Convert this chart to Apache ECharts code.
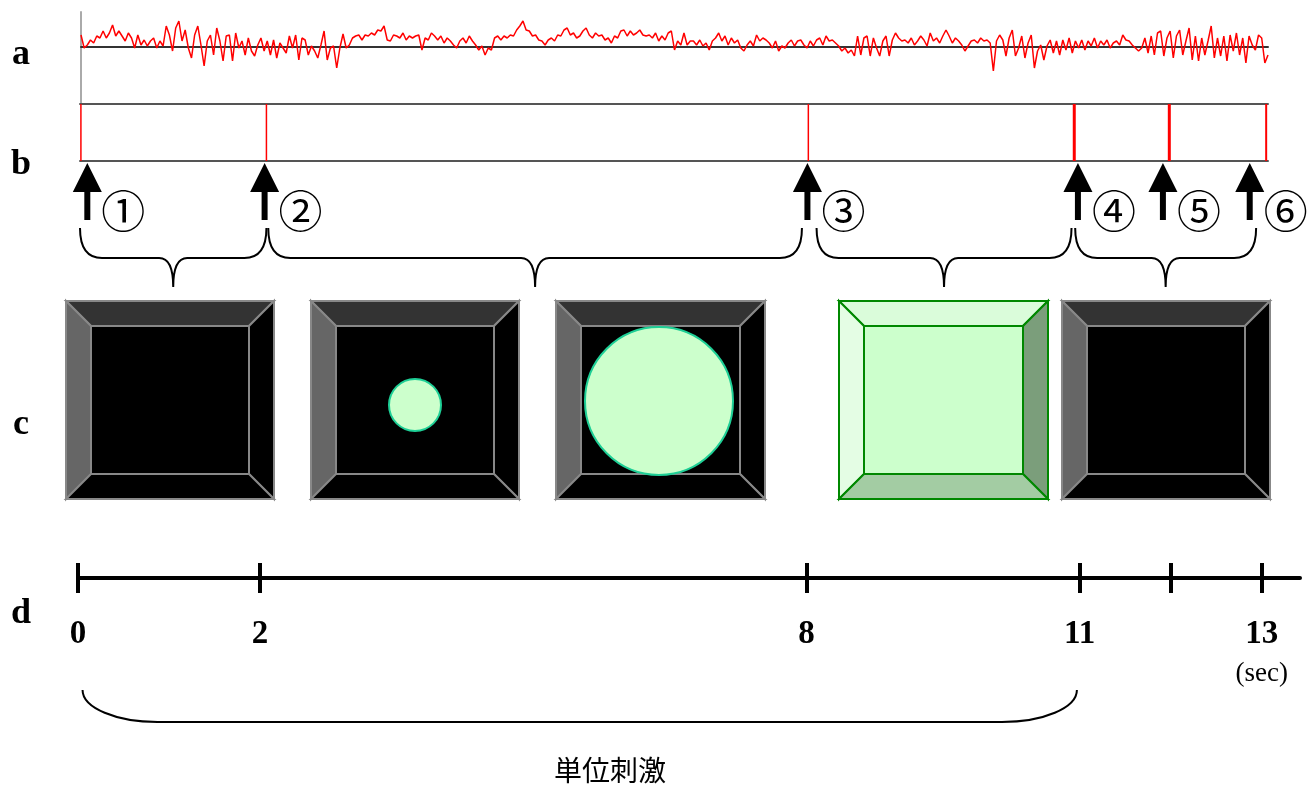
<!DOCTYPE html>
<html>
<head>
<meta charset="utf-8">
<script src="https://cdn.jsdelivr.net/npm/echarts@6/dist/echarts.min.js"></script>
<style>
  html, body { margin: 0; padding: 0; background: #fff; }
  #main { width: 1315px; height: 786px; }
</style>
</head>
<body>
<div id="main"></div>
<script>
var signalPart1 = [12,-1,2,7,4,11,9,16,9,14, 22,11,16,11,6,14,9,-1,12,2, 7,1,6,9,-1,6,1,21,12,-4,
  19,26,6,17,-1,-11,12,21,2,-19, 6,12,-8,19,6,-14,11,12,-14,14, -1,6,-8,9,-4,-9,2,9,-4,6,
  -8,7,-11,4,-1,-6,11,-1,12,-13, 9,7,-8,1,-4,-11,2,16,-13,-1, 1,-21,-1,13,-1,2,9,11,12,7,
  12,11,14,12,17,16,21,7,6,12];
var signalPart2 = [11,9,14,7,11,9,11,12,-3,9, 7,14,11,7,11,4,9,6,2,-1, 6,9,4,11,6,2,-3,1,-8,-1,
  -3,9,11,7,11,9,12,11,17,21, 26,17,16,11,12,7,6,2,7,9, 6,12,11,17,19,12,14,9,11,16,
  19,12,9,14,11,12,7,9,4,11, 9,16,17,11,16,12,14,17,12,11, 12,9,14,6,11,7,14,16,-3,6, 2,14,2,6];
var signalPart3 = [6,2,7,1,4,-3,6,9,14,6, 11,2,9,4,7,-1,-4,2,6,1, 12,6,9,7,4,-1,6,-4,1,-1,
  4,7,1,6,7,2,-1,6,1,7, 9,2,11,6,7,4,1,-4,-1,-6, -3,-9,11,-8,9,11,-9,9,-1,-9,
  6,11,-9,7,14,9,6,7,4,9, 2,6,11,7,1,14,6,9,4,11, 17,11,4,9,6,2,-4,1,6,7, 4,9,6,7];
var signalPart4 = [4,-24,6,12,7,-9,9,17,-9,-1, 11,-11,4,12,-21,-4,2,-13,1,7, -6,6,-8,7,-3,9,-6,6,-1,7,
  -3,6,1,9,-1,6,2,7,-1,4, 6,2,12,7,6,2,-1,-4,-1,9, -6,11,-8,14,16,-9,9,16,-11,11,
  17,-8,6,19,-13,11,-14,9,-8,6, 21,-11,9,-9,11,-14,12,-4,14,-8, 9,-16,11,2,-3,12,9,-16,-8];
var signal = signalPart1.concat(signalPart2, signalPart3, signalPart4);
var duration = 13;

// b: stimulus onsets (sec) and the arrows under them
var stimTimes = [0.01, 2.04, 7.97, 10.88, 11.92, 12.98];
var arrowTimes = [0.08, 2.02, 7.96, 10.92, 11.85, 12.8];
var arrowLabels = ['①', '②', '③', '④', '⑤', '⑥'];
var braceSpans = [[0, 2.04], [2.06, 7.9], [8.06, 10.85], [10.89, 12.87]];

// d: time axis
var axisTicks = [0, 2, 8, 11, 12, 13];
var axisLabels = [0, 2, 8, 11, 13];
var unitSpan = [[0.05, 10.97]];
var unitLabel = '単位刺激';

var rowLetters = ['a', 'b', 'c', 'd'];

var stimWidths = [1.5, 1.5, 1.5, 3, 3, 2];
var serif = '"Liberation Serif", "DejaVu Serif", serif';
var cjk = '"Noto Sans CJK JP", "Noto Sans", sans-serif';

var chart = echarts.init(document.getElementById('main'));

var signalData = signal.map(function (v, i) {
  return [i * duration / (signal.length - 1), v];
});

function renderStim(params, api) {
  var cs = params.coordSys;
  var x = api.coord([api.value(0), 0])[0];
  return {
    type: 'line',
    shape: { x1: x, y1: cs.y, x2: x, y2: cs.y + cs.height },
    style: { stroke: '#ff0000', lineWidth: stimWidths[params.dataIndex] }
  };
}

function renderArrow(params, api) {
  var p = api.coord([api.value(0), 0]);
  var x = p[0], y = p[1] + 2;
  return {
    type: 'group',
    children: [
      { type: 'polygon', shape: { points: [[x, y], [x + 14.5, y + 29], [x - 14.5, y + 29]] }, style: { fill: '#000' } },
      { type: 'rect', shape: { x: x - 3, y: y + 28, width: 6, height: 29 }, style: { fill: '#000' } },
      { type: 'text', style: {
        text: arrowLabels[params.dataIndex], x: x + 36, y: y + 48,
        align: 'center', verticalAlign: 'middle', textAlign: 'center', textVerticalAlign: 'middle',
        font: '44px ' + cjk, fill: '#000' } }
    ]
  };
}

function renderBrace(params, api) {
  var xa = api.coord([api.value(0), 0])[0];
  var xb = api.coord([api.value(1), 0])[0];
  var yb = api.coord([api.value(0), 0])[1];
  var y0 = yb + 67, y1 = yb + 97, y2 = yb + 126;
  var xm = (xa + xb) / 2, r = 22, rm = 14;
  var d = 'M' + xa + ' ' + y0 + ' Q' + xa + ' ' + y1 + ' ' + (xa + r) + ' ' + y1 +
    ' L' + (xm - rm) + ' ' + y1 + ' Q' + xm + ' ' + y1 + ' ' + xm + ' ' + y2 +
    ' M' + xm + ' ' + y2 + ' Q' + xm + ' ' + y1 + ' ' + (xm + rm) + ' ' + y1 +
    ' L' + (xb - r) + ' ' + y1 + ' Q' + xb + ' ' + y1 + ' ' + xb + ' ' + y0;
  return { type: 'path', shape: { pathData: d }, style: { fill: null, stroke: '#000', lineWidth: 2 } };
}

function renderUnitBrace(params, api) {
  var a = api.coord([api.value(0), 0]);
  var xa = a[0];
  var xb = api.coord([api.value(1), 0])[0];
  var y0 = a[1] + 112, y1 = a[1] + 144;
  var d = 'M' + xa + ' ' + y0 + ' C' + xa + ' ' + (y0 + 18) + ' ' + (xa + 34) + ' ' + y1 + ' ' + (xa + 75) + ' ' + y1 +
    ' L' + (xb - 75) + ' ' + y1 + ' C' + (xb - 34) + ' ' + y1 + ' ' + xb + ' ' + (y0 + 18) + ' ' + xb + ' ' + y0;
  return { type: 'path', shape: { pathData: d }, style: { fill: null, stroke: '#000', lineWidth: 2 } };
}

// c: stimulus frames
function frame(x, y, w, h, b, pal) {
  var pts = {
    top: [[x, y], [x + w, y], [x + w - b, y + b], [x + b, y + b]],
    left: [[x, y], [x + b, y + b], [x + b, y + h - b], [x, y + h]],
    right: [[x + w, y], [x + w, y + h], [x + w - b, y + h - b], [x + w - b, y + b]],
    bottom: [[x, y + h], [x + b, y + h - b], [x + w - b, y + h - b], [x + w, y + h]],
    inner: [[x + b, y + b], [x + w - b, y + b], [x + w - b, y + h - b], [x + b, y + h - b]]
  };
  return ['top', 'left', 'right', 'bottom', 'inner'].map(function (k) {
    return { type: 'polygon', shape: { points: pts[k] }, style: { fill: pal[k], stroke: pal.edge, lineWidth: 2 } };
  });
}
var darkPal = { top: '#333333', left: '#666666', right: '#000000', bottom: '#000000', inner: '#000000', edge: '#888888' };
var greenPal = { top: '#dafcda', left: '#e4fde4', right: '#7b9e7b', bottom: '#a3cca3', inner: '#ccffcc', edge: '#008800' };

var graphics = [];
graphics = graphics.concat(frame(66, 301, 208, 198, 25, darkPal));
graphics = graphics.concat(frame(311, 301, 208, 198, 25, darkPal));
graphics = graphics.concat(frame(556, 301, 209, 198, 25, darkPal));
graphics = graphics.concat(frame(839, 301, 209, 198, 25, greenPal));
graphics = graphics.concat(frame(1062, 301, 208, 198, 25, darkPal));
graphics.push({ type: 'circle', shape: { cx: 415, cy: 405, r: 26 }, style: { fill: '#ccffcc', stroke: '#1ecf96', lineWidth: 2 } });
graphics.push({ type: 'circle', shape: { cx: 659, cy: 401, r: 74 }, style: { fill: '#ccffcc', stroke: '#1ecf96', lineWidth: 2 } });

var letterY = [55, 165, 425, 614];
rowLetters.forEach(function (t, i) {
  graphics.push({ type: 'text', style: {
    text: t, x: 21, y: letterY[i], align: 'center', verticalAlign: 'middle',
    textAlign: 'center', textVerticalAlign: 'middle', font: 'bold 36px ' + serif, fill: '#000' } });
});
graphics.push({ type: 'text', style: {
  text: unitLabel, x: 610, y: 770, align: 'center', verticalAlign: 'middle',
  textAlign: 'center', textVerticalAlign: 'middle', font: '28px ' + cjk, fill: '#000' } });

var hidden = { show: false };

var option = {
  animation: false,
  backgroundColor: '#fff',
  grid: [
    { left: 81, right: 47, top: 12, height: 92 },
    { left: 80, right: 47, top: 104, height: 57 },
    { left: 78, right: 15, top: 548, height: 30 }
  ],
  xAxis: [
    { gridIndex: 0, type: 'value', min: 0, max: duration,
      axisLine: { onZero: true, lineStyle: { color: '#333', width: 2 } },
      axisTick: hidden, axisLabel: hidden, splitLine: hidden },
    { gridIndex: 1, type: 'value', min: 0, max: duration, position: 'bottom',
      axisLine: { onZero: false, lineStyle: { color: '#555', width: 2 } },
      axisTick: hidden, axisLabel: hidden, splitLine: hidden },
    { gridIndex: 1, type: 'value', min: 0, max: duration, position: 'top',
      axisLine: { onZero: false, lineStyle: { color: '#555', width: 2 } },
      axisTick: hidden, axisLabel: hidden, splitLine: hidden },
    { gridIndex: 2, type: 'value', min: 0, max: 13.42, position: 'bottom',
      axisLine: { onZero: false, lineStyle: { color: '#000', width: 4 } },
      axisTick: { show: true, customValues: axisTicks, length: 15, lineStyle: { color: '#000', width: 4 } },
      axisLabel: {
        show: true, customValues: axisLabels, margin: 40,
        formatter: function (v) {
          return v === 13 ? '{n|13}\n{s|(sec)}' : '{n|' + v + '}';
        },
        rich: {
          n: { fontFamily: serif, fontWeight: 'bold', fontSize: 33, lineHeight: 32, color: '#000' },
          s: { fontFamily: serif, fontSize: 27, lineHeight: 48, color: '#000' }
        }
      },
      splitLine: hidden },
    { gridIndex: 2, type: 'value', min: 0, max: 13.42, position: 'bottom',
      axisLine: { show: false, onZero: false },
      axisTick: { show: true, inside: true, customValues: axisTicks, length: 15, lineStyle: { color: '#000', width: 4 } },
      axisLabel: hidden, splitLine: hidden }
  ],
  yAxis: [
    { gridIndex: 0, type: 'value', min: -57, max: 35,
      axisLine: { show: true, lineStyle: { color: '#aaa', width: 2 } },
      axisTick: hidden, axisLabel: hidden, splitLine: hidden },
    { gridIndex: 1, type: 'value', min: 0, max: 1, show: false },
    { gridIndex: 2, type: 'value', min: 0, max: 1, show: false }
  ],
  graphic: { elements: graphics },
  series: [
    { type: 'line', xAxisIndex: 0, yAxisIndex: 0, data: signalData, showSymbol: false,
      lineStyle: { color: '#ff0000', width: 1.5 }, silent: true },
    { type: 'custom', xAxisIndex: 1, yAxisIndex: 1, data: stimTimes.map(function (t) { return [t]; }),
      renderItem: renderStim, silent: true },
    { type: 'custom', xAxisIndex: 1, yAxisIndex: 1, data: arrowTimes.map(function (t) { return [t]; }),
      renderItem: renderArrow, silent: true },
    { type: 'custom', xAxisIndex: 1, yAxisIndex: 1, data: braceSpans,
      renderItem: renderBrace, silent: true },
    { type: 'custom', xAxisIndex: 3, yAxisIndex: 2, data: unitSpan,
      renderItem: renderUnitBrace, silent: true }
  ]
};

chart.setOption(option);
</script>
</body>
</html>
